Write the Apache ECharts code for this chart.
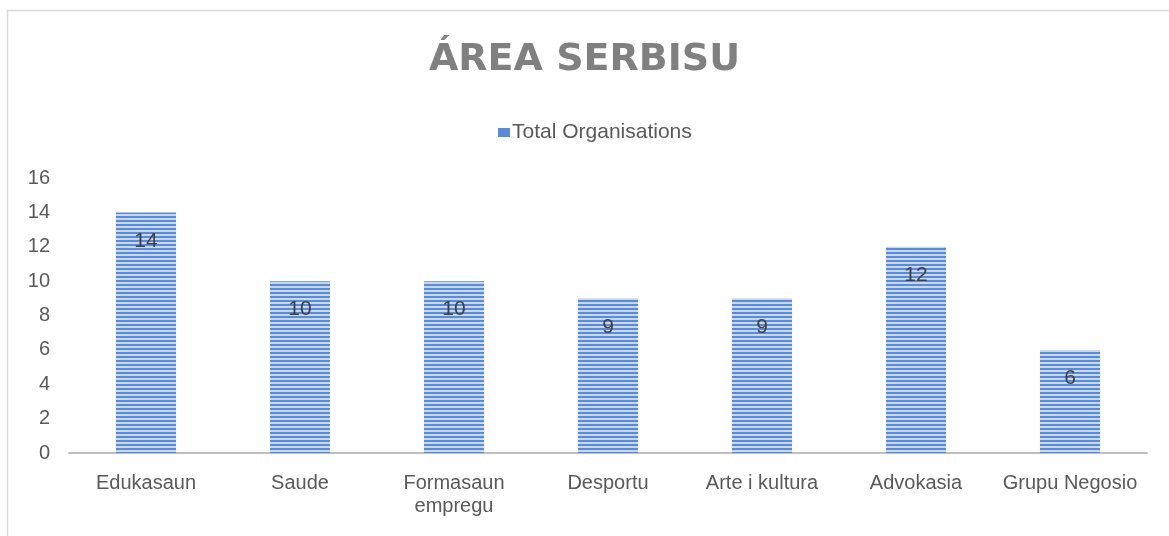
<!DOCTYPE html>
<html>
<head>
<meta charset="utf-8">
<script src="https://cdn.jsdelivr.net/npm/echarts@6/dist/echarts.min.js"></script>
<style>
  html, body { margin: 0; padding: 0; background: #fff; }
  #chart { width: 1169px; height: 536px; }
</style>
</head>
<body>
<div id="chart"></div>
<script>
var categories = ['Edukasaun', 'Saude', 'Formasaun\nempregu', 'Desportu', 'Arte i kultura', 'Advokasia', 'Grupu Negosio'];
var totals = [14, 10, 10, 9, 9, 12, 6];
var yTicks = [0, 2, 4, 6, 8, 10, 12, 14, 16];

// striped fill like the excel pattern
function stripePattern() {
	var c = document.createElement('canvas');
	c.width = 4;
	c.height = 4;
	var ctx = c.getContext('2d');
	ctx.fillStyle = '#c6d8f1';
	ctx.fillRect(0, 0, 4, 4);
	ctx.fillStyle = '#5b8bd2';
	ctx.fillRect(0, 0, 4, 2);
	return { image: c, repeat: 'repeat' };
}

var pattern = stripePattern();
var myChart = echarts.init(document.getElementById('chart'));
var option = {
	animation: false,
	backgroundColor: '#fff',
	graphic: [{
		type: 'rect',
		shape: { x: 7.5, y: 10.5, width: 1300, height: 700 },
		style: { fill: 'none', stroke: '#d9d9d9', lineWidth: 1.5 },
		silent: true
	}],
	title: {
		text: 'ÁREA SERBISU',
		left: 'center',
		top: 36,
		textStyle: {
			fontFamily: 'DejaVu Sans',
			fontWeight: 'bold',
			fontSize: 38,
			color: '#808080'
		}
	},
	legend: {
		left: 493,
		top: 117,
		icon: 'rect',
		itemWidth: 12,
		itemHeight: 9,
		itemGap: 4,
		textStyle: {
			fontFamily: 'Liberation Sans',
			fontSize: 21,
			color: '#595959',
			padding: [0, 0, 0, -3]
		},
		data: [{ name: 'Total Organisations', itemStyle: { color: '#5b8bd2' } }]
	},
	grid: {
		left: 69,
		right: 22,
		top: 178,
		bottom: 83
	},
	xAxis: {
		type: 'category',
		data: categories,
		axisLine: { lineStyle: { color: '#bfbfbf', width: 2 } },
		axisTick: { show: false },
		axisLabel: {
			margin: 19,
			fontFamily: 'Liberation Sans',
			fontSize: 20,
			lineHeight: 23,
			color: '#595959',
			interval: 0
		}
	},
	yAxis: {
		type: 'value',
		min: yTicks[0],
		max: yTicks[yTicks.length - 1],
		interval: 2,
		axisLine: { show: false },
		axisTick: { show: false },
		splitLine: { show: false },
		axisLabel: {
			margin: 19,
			fontFamily: 'Liberation Sans',
			fontSize: 20,
			color: '#595959'
		}
	},
	series: [{
		name: 'Total Organisations',
		type: 'bar',
		data: totals,
		barWidth: '39%',
		itemStyle: { color: pattern },
		label: {
			show: true,
			position: 'insideTop',
			distance: 18,
			fontFamily: 'Liberation Sans',
			fontSize: 21,
			color: '#404040'
		}
	}]
};
myChart.setOption(option);
</script>
</body>
</html>
